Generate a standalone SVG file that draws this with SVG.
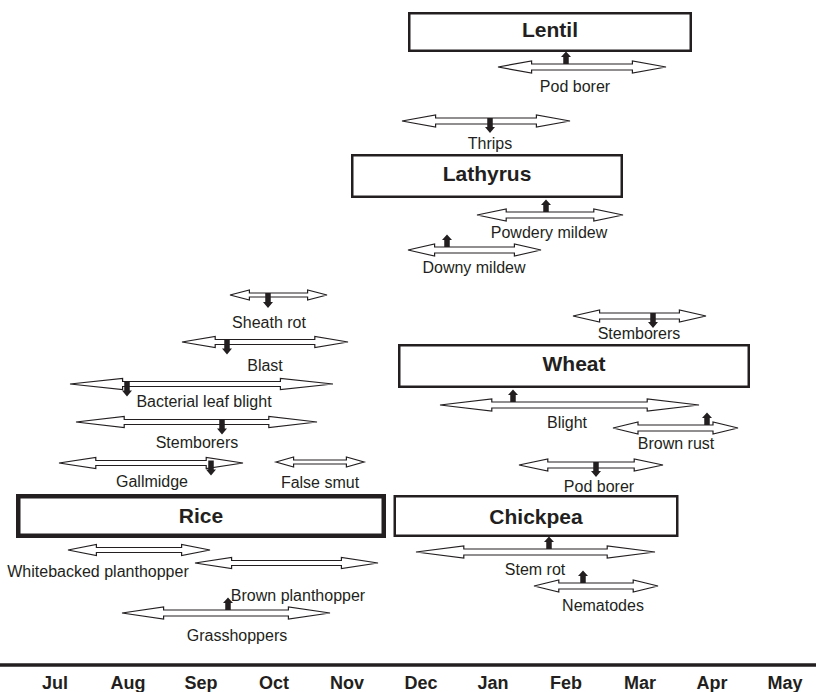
<svg xmlns="http://www.w3.org/2000/svg" width="816" height="692" viewBox="0 0 816 692">
<style>
.box{fill:#fff;stroke:#231f20;stroke-width:2.5}
.crop{font-family:"Liberation Sans",Arial,sans-serif;font-weight:bold;font-size:21px;fill:#231f20;text-anchor:middle}
.lbl{font-family:"Liberation Sans",Arial,sans-serif;font-size:16px;fill:#231f20;text-anchor:middle}
.mon{font-family:"Liberation Sans",Arial,sans-serif;font-weight:bold;font-size:18px;fill:#231f20;text-anchor:middle}
.dbl{fill:#fff;stroke:#231f20;stroke-width:1.2;stroke-linejoin:miter}
.blk{fill:#231f20}
</style>
<defs>
<polygon id="up" points="-2.75,0 2.75,0 2.75,-7 5,-7 0,-12.5 -5,-7 -2.75,-7"/>
<polygon id="dn" points="-2.75,0 2.75,0 2.75,9 5,9 0,15 -5,9 -2.75,9"/>
</defs>
<rect width="816" height="692" fill="#fff"/>

<g id="lentil"><rect class="box" x="409.25" y="13.25" width="281.5" height="37.5"/><text class="crop" x="550" y="37">Lentil</text></g>
<g id="lathyrus"><rect class="box" x="352.25" y="155.25" width="269.5" height="41.5"/><text class="crop" x="487" y="181">Lathyrus</text></g>
<g id="wheat"><rect class="box" x="399.25" y="345.25" width="349.5" height="41.5"/><text class="crop" x="574" y="371">Wheat</text></g>
<g id="chickpea"><rect class="box" x="394.75" y="496.25" width="282.5" height="39.5"/><text class="crop" x="536" y="524">Chickpea</text></g>
<g id="rice"><rect class="box" x="18.25" y="496.25" width="365.5" height="39.5" style="stroke-width:4.5"/><text class="crop" x="201" y="523">Rice</text></g>

<g id="connectors">
<polygon class="dbl" points="498,67 531.6,61 531.6,64 632.4,64 632.4,61 666,67 632.4,73 632.4,70 531.6,70 531.6,73"/>
<polygon class="dbl" points="402,121 435.6,115 435.6,118 536.4,118 536.4,115 570,121 536.4,127 536.4,124 435.6,124 435.6,127"/>
<polygon class="dbl" points="477,215 506.2,209 506.2,212 593.8,212 593.8,209 623,215 593.8,221 593.8,218 506.2,218 506.2,221"/>
<polygon class="dbl" points="408,250 434.6,244 434.6,247 514.4,247 514.4,244 541,250 514.4,256 514.4,253 434.6,253 434.6,256"/>
<polygon class="dbl" points="230,295 249.4,290 249.4,293 307.6,293 307.6,290 327,295 307.6,300 307.6,297 249.4,297 249.4,300"/>
<polygon class="dbl" points="182,342 215.2,336.5 215.2,339.5 314.8,339.5 314.8,336.5 348,342 314.8,347.5 314.8,344.5 215.2,344.5 215.2,347.5"/>
<polygon class="dbl" points="70,384 122.6,378.5 122.6,381.5 280.4,381.5 280.4,378.5 333,384 280.4,389.5 280.4,386.5 122.6,386.5 122.6,389.5"/>
<polygon class="dbl" points="76,422 124.2,416.5 124.2,419.5 268.8,419.5 268.8,416.5 317,422 268.8,427.5 268.8,424.5 124.2,424.5 124.2,427.5"/>
<polygon class="dbl" points="59,463 95.8,457.5 95.8,460.5 206.2,460.5 206.2,457.5 243,463 206.2,468.5 206.2,465.5 95.8,465.5 95.8,468.5"/>
<polygon class="dbl" points="276,462 293.6,457 293.6,460 346.4,460 346.4,457 364,462 346.4,467 346.4,464 293.6,464 293.6,467"/>
<polygon class="dbl" points="68,550 96.4,544.5 96.4,547.5 181.6,547.5 181.6,544.5 210,550 181.6,555.5 181.6,552.5 96.4,552.5 96.4,555.5"/>
<polygon class="dbl" points="195,563 231.6,557.5 231.6,560.5 341.4,560.5 341.4,557.5 378,563 341.4,568.5 341.4,565.5 231.6,565.5 231.6,568.5"/>
<polygon class="dbl" points="122,613 163.6,607 163.6,610 288.4,610 288.4,607 330,613 288.4,619 288.4,616 163.6,616 163.6,619"/>
<polygon class="dbl" points="573,316 599.6,310 599.6,313 679.4,313 679.4,310 706,316 679.4,322 679.4,319 599.6,319 599.6,322"/>
<polygon class="dbl" points="440,405 491.8,399 491.8,402 647.2,402 647.2,399 699,405 647.2,411 647.2,408 491.8,408 491.8,411"/>
<polygon class="dbl" points="613,428 638,422 638,425 713,425 713,422 738,428 713,434 713,431 638,431 638,434"/>
<polygon class="dbl" points="519,465 547.8,459 547.8,462 634.2,462 634.2,459 663,465 634.2,471 634.2,468 547.8,468 547.8,471"/>
<polygon class="dbl" points="416,552 463.8,546 463.8,549 607.2,549 607.2,546 655,552 607.2,558 607.2,555 463.8,555 463.8,558"/>
<polygon class="dbl" points="534,586 558.8,580 558.8,583 633.2,583 633.2,580 658,586 633.2,592 633.2,589 558.8,589 558.8,592"/>

<use href="#up" class="blk" x="566" y="64"/>
<use href="#dn" class="blk" x="490" y="118"/>
<use href="#up" class="blk" x="546" y="212"/>
<use href="#up" class="blk" x="447" y="247"/>
<use href="#dn" class="blk" x="268" y="293"/>
<use href="#dn" class="blk" x="227" y="339.5"/>
<use href="#dn" class="blk" x="127" y="381.5"/>
<use href="#dn" class="blk" x="222" y="419.5"/>
<use href="#dn" class="blk" x="211" y="460.5"/>
<use href="#up" class="blk" x="228" y="610"/>
<use href="#dn" class="blk" x="653" y="313"/>
<use href="#up" class="blk" x="513" y="402"/>
<use href="#up" class="blk" x="707" y="425"/>
<use href="#dn" class="blk" x="596" y="462"/>
<use href="#up" class="blk" x="549" y="549"/>
<use href="#up" class="blk" x="583" y="583"/>
</g>

<g id="labels">
<text class="lbl" x="575" y="92">Pod borer</text>
<text class="lbl" x="490" y="149">Thrips</text>
<text class="lbl" x="549" y="238">Powdery mildew</text>
<text class="lbl" x="474" y="273">Downy mildew</text>
<text class="lbl" x="269" y="328">Sheath rot</text>
<text class="lbl" x="265" y="371">Blast</text>
<text class="lbl" x="204" y="407">Bacterial leaf blight</text>
<text class="lbl" x="197" y="448">Stemborers</text>
<text class="lbl" x="152" y="487">Gallmidge</text>
<text class="lbl" x="320" y="488">False smut</text>
<text class="lbl" x="98" y="577">Whitebacked planthopper</text>
<text class="lbl" x="298" y="601">Brown planthopper</text>
<text class="lbl" x="237" y="641">Grasshoppers</text>
<text class="lbl" x="639" y="339">Stemborers</text>
<text class="lbl" x="567" y="428">Blight</text>
<text class="lbl" x="676" y="449">Brown rust</text>
<text class="lbl" x="599" y="492">Pod borer</text>
<text class="lbl" x="535" y="575">Stem rot</text>
<text class="lbl" x="603" y="611">Nematodes</text>
</g>

<g id="axis">
<line x1="0" y1="665" x2="816" y2="665" stroke="#231f20" stroke-width="3.5"/>
<text class="mon" x="55" y="689">Jul</text>
<text class="mon" x="128" y="689">Aug</text>
<text class="mon" x="201" y="689">Sep</text>
<text class="mon" x="274" y="689">Oct</text>
<text class="mon" x="347" y="689">Nov</text>
<text class="mon" x="421" y="689">Dec</text>
<text class="mon" x="493" y="689">Jan</text>
<text class="mon" x="566" y="689">Feb</text>
<text class="mon" x="640" y="689">Mar</text>
<text class="mon" x="712" y="689">Apr</text>
<text class="mon" x="785" y="689">May</text>
</g>
</svg>
